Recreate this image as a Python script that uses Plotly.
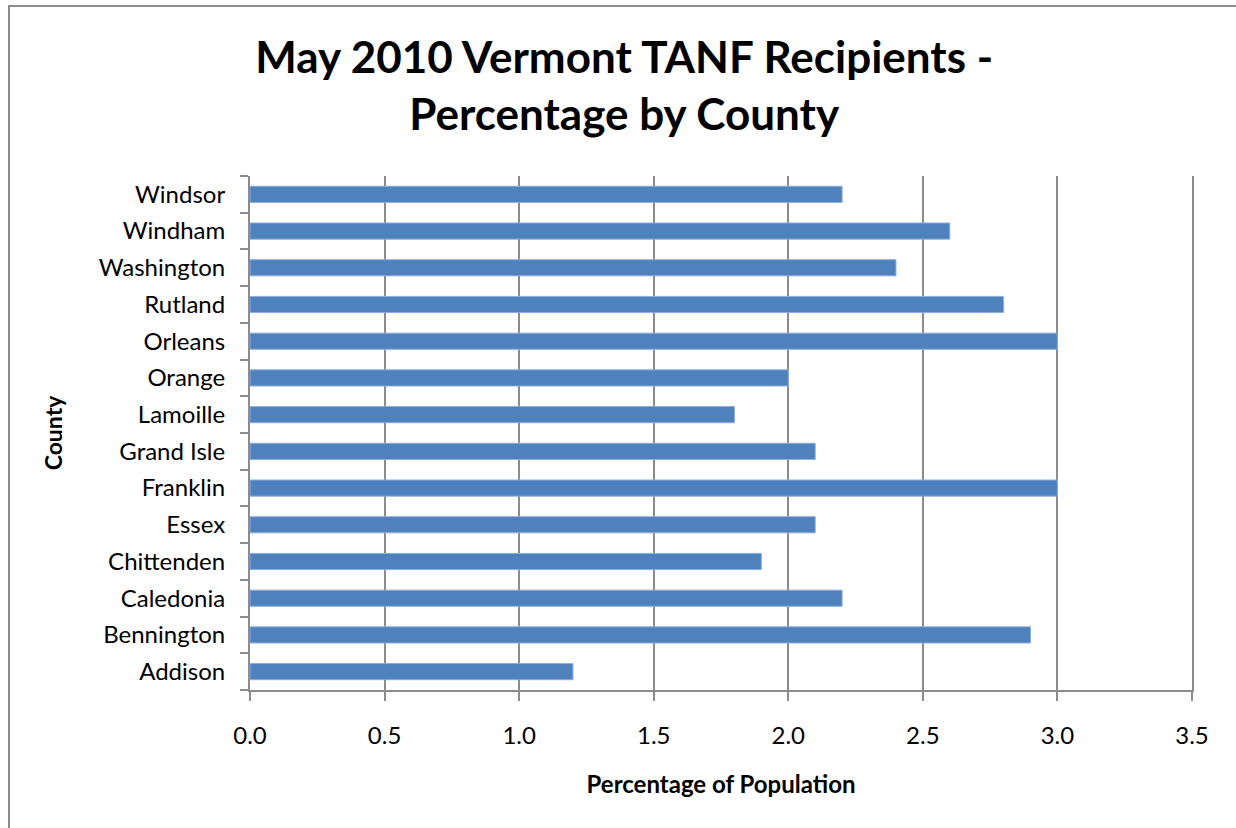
import plotly.graph_objects as go

counties = ["Addison", "Bennington", "Caledonia", "Chittenden", "Essex", "Franklin",
            "Grand Isle", "Lamoille", "Orange", "Orleans", "Rutland", "Washington",
            "Windham", "Windsor"]
percentages = [1.2, 2.9, 2.2, 1.9, 2.1, 3.0, 2.1, 1.8, 2.0, 3.0, 2.8, 2.4, 2.6, 2.2]
x_ticks = [0.0, 0.5, 1.0, 1.5, 2.0, 2.5, 3.0, 3.5]
x_tick_labels = ["0.0", "0.5", "1.0", "1.5", "2.0", "2.5", "3.0", "3.5"]

W, H = 1236, 828
L, R, T, B = 250, 44, 176, 138
pw, ph = W - L - R, H - T - B

font_family = "Lato, 'Open Sans', sans-serif"

fig = go.Figure(go.Bar(
    y=counties, x=percentages, orientation="h",
    marker=dict(color="#4F81BD", line=dict(color="#8EAEDB", width=1)),
    width=0.44,
))

def px_to_paper_x(px):
    return (px - L) / pw

def px_to_paper_y(py):
    return (H - B - py) / ph

fig.update_layout(
    width=W, height=H,
    margin=dict(l=L, r=R, t=T, b=B, pad=0),
    paper_bgcolor="white", plot_bgcolor="white",
    showlegend=False,
    title=dict(
        text="<b>May 2010 Vermont TANF Recipients -<br>Percentage by County</b>",
        x=0.505, xanchor="center", y=1 - 73 / H, yanchor="middle",
        font=dict(family=font_family, size=44, color="black"),
    ),
    xaxis=dict(
        range=[0, 3.5], tickvals=x_ticks, ticktext=x_tick_labels,
        showgrid=True, gridcolor="#8C8C8C", gridwidth=2,
        showline=True, linecolor="#8C8C8C", linewidth=2,
        ticks="outside", ticklen=9, tickcolor="#8C8C8C", tickwidth=2,
        ticklabelstandoff=14,
        tickfont=dict(family=font_family, size=24, color="black"),
        title=dict(text="<b>Percentage of Population</b>", standoff=28,
                   font=dict(family=font_family, size=24, color="black")),
        zeroline=False, mirror=False,
    ),
    yaxis=dict(
        type="category", categoryorder="array", categoryarray=counties,
        tickson="boundaries", ticks="outside", ticklen=8, tickcolor="#8C8C8C", tickwidth=2,
        showline=True, linecolor="#8C8C8C", linewidth=2, mirror=True,
        showgrid=False,
        ticklabelstandoff=18,
        tickfont=dict(family=font_family, size=24, color="black"),
        title=dict(text="<b>County</b>", standoff=30,
                   font=dict(family=font_family, size=23, color="black")),
    ),
    shapes=[
        dict(type="rect", xref="paper", yref="paper",
             x0=px_to_paper_x(9), x1=px_to_paper_x(1300),
             y0=px_to_paper_y(900), y1=px_to_paper_y(6),
             line=dict(color="#8C8C8C", width=2), fillcolor="rgba(0,0,0,0)", layer="below"),
    ],
)

fig.write_html("out.html", config={"displayModeBar": False},
               post_script="document.body.style.margin='0';document.body.style.overflow='hidden';")
